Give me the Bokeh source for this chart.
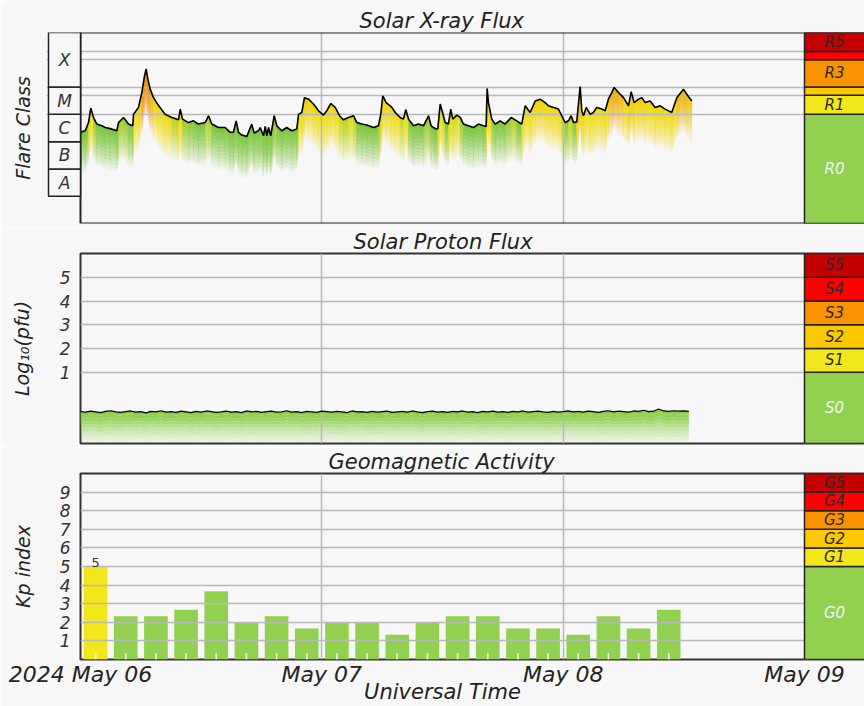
import numpy as np
from bokeh.plotting import figure
from bokeh.layouts import column
from bokeh.models import Range1d, FixedTicker, LinearAxis, ColumnDataSource
from bokeh.core.properties import value
from bokeh.embed import file_html
from bokeh.resources import INLINE

# ---------------- data ----------------
day_ticks = [0, 24, 48, 72]                      # hours after 2024-05-06 00:00 UT
day_labels = ["2024 May 06", "May 07", "May 08", "May 09"]
time_label = "Universal Time"
time_label_at = 36

# GOES X-ray flux (W/m^2), hours after 2024-05-06 00:00 UT
xray_hours = [
    0.00, 0.47, 0.80, 1.02, 1.29, 1.62, 2.12, 2.46, 2.95, 3.61,
    3.78, 4.28, 4.77, 5.20, 5.27, 5.77, 6.10, 6.37, 6.53, 6.69,
    6.93, 7.26, 7.76, 8.42, 9.08, 9.75, 9.92, 10.14, 10.74, 11.24,
    11.73, 12.40, 12.73, 13.06, 13.72, 14.39, 14.89, 15.21, 15.48, 15.71,
    16.04, 16.54, 17.03, 17.27, 17.70, 17.87, 18.20, 18.37, 18.53, 18.70,
    18.92, 19.26, 19.52, 20.02, 20.51, 21.01, 21.51, 21.68, 22.01, 22.27,
    22.67, 23.17, 23.67, 24.16, 24.49, 24.89, 25.33, 25.76, 26.15, 26.65,
    27.15, 27.48, 27.97, 28.47, 29.14, 29.63, 29.86, 30.06, 30.40, 30.80,
    30.96, 31.30, 31.79, 32.12, 32.35, 32.62, 33.11, 33.61, 34.11, 34.61,
    34.87, 35.27, 35.53, 35.77, 36.00, 36.27, 36.59, 36.82, 37.02, 37.42,
    37.76, 38.09, 38.58, 39.08, 39.58, 40.07, 40.34, 40.44, 40.57, 40.90,
    41.24, 41.74, 42.23, 42.83, 43.39, 43.88, 44.22, 44.72, 45.22, 45.71,
    46.21, 46.54, 47.04, 47.53, 47.86, 48.20, 48.53, 48.80, 49.02, 49.35,
    49.52, 49.69, 49.85, 50.02, 50.29, 50.69, 51.01, 51.34, 51.84, 52.18,
    52.50, 52.83, 53.07, 53.50, 54.00, 54.50, 54.76, 55.06, 55.49, 55.82,
    56.15, 56.65, 57.15, 57.65, 58.14, 58.80, 59.30, 59.96, 60.29, 60.79,
]
xray_flux = [
    2.2e-6, 2.5e-6, 5.0e-6, 1.7e-5, 7.7e-6, 4.4e-6, 3.8e-6, 3.3e-6, 3.0e-6, 2.5e-6,
    5.0e-6, 7.7e-6, 4.4e-6, 3.8e-6, 1.0e-5, 1.8e-5, 6.3e-5, 2.6e-4, 4.6e-4, 2.0e-4,
    8.4e-5, 4.1e-5, 2.1e-5, 1.0e-5, 7.7e-6, 6.3e-6, 1.56e-5, 6.7e-6, 5.0e-6, 5.8e-6,
    4.4e-6, 5.0e-6, 8.9e-6, 4.4e-6, 3.3e-6, 3.3e-6, 2.2e-6, 2.2e-6, 5.8e-6, 2.2e-6,
    1.74e-6, 1.55e-6, 4.4e-6, 2.06e-6, 2.5e-6, 3.3e-6, 1.64e-6, 3.6e-6, 1.64e-6, 3.3e-6,
    1.64e-6, 8.9e-6, 3.8e-6, 2.5e-6, 3.3e-6, 2.5e-6, 2.9e-6, 1.0e-5, 1.17e-5, 4.1e-5,
    3.6e-5, 2.4e-5, 1.35e-5, 9.4e-6, 1.35e-5, 2.5e-5, 1.8e-5, 8.9e-6, 6.3e-6, 7.7e-6,
    8.9e-6, 5.0e-6, 4.4e-6, 4.05e-6, 3.3e-6, 3.8e-6, 1.0e-5, 4.8e-5, 2.7e-5, 2.06e-5,
    1.8e-5, 1.17e-5, 7.7e-6, 6.7e-6, 1.47e-5, 6.7e-6, 3.8e-6, 4.4e-6, 3.8e-6, 8.9e-6,
    3.8e-6, 3.0e-6, 2.9e-6, 2.4e-5, 1.17e-5, 5.0e-6, 4.4e-6, 1.56e-5, 6.7e-6, 9.4e-6,
    7.7e-6, 4.4e-6, 3.8e-6, 3.3e-6, 4.4e-6, 3.8e-6, 3.6e-6, 8.9e-5, 2.7e-5, 6.7e-6,
    4.4e-6, 5.8e-6, 4.4e-6, 7.7e-6, 5.8e-6, 4.4e-6, 2.06e-5, 1.17e-5, 3.1e-5, 3.6e-5,
    2.7e-5, 2.06e-5, 1.8e-5, 1.56e-5, 8.9e-6, 5.0e-6, 5.8e-6, 8.9e-6, 5.0e-6, 5.3e-6,
    2.4e-5, 1.05e-4, 1.35e-5, 8.9e-6, 1.8e-5, 1.0e-5, 1.17e-5, 1.8e-5, 1.56e-5, 1.35e-5,
    3.6e-5, 6.3e-5, 9.7e-5, 6.3e-5, 4.1e-5, 2.06e-5, 6.7e-5, 2.7e-5, 3.6e-5, 4.1e-5,
    2.7e-5, 3.1e-5, 1.8e-5, 2.06e-5, 1.56e-5, 1.17e-5, 4.1e-5, 8.4e-5, 5.5e-5, 3.1e-5,
]

flare_classes = ["A", "B", "C", "M", "X"]
flare_class_low = [1e-8, 1e-7, 1e-6, 1e-5, 1e-4]
flare_class_high = [1e-7, 1e-6, 1e-5, 1e-4, 1e-2]

r_scale_labels = ["R0", "R1", "", "R3", "", "R5"]
r_scale_low = [1e-9, 1e-5, 5e-5, 1e-4, 1e-3, 2e-3]
r_scale_high = [1e-5, 5e-5, 1e-4, 1e-3, 2e-3, 1e-2]

# proton flux, log10(pfu), every half hour
proton_hours = [i * 0.5 for i in range(122)]
proton_log_pfu = [
    -0.66, -0.68, -0.64, -0.67, -0.70, -0.65, -0.62, -0.67, -0.69, -0.66,
    -0.63, -0.68, -0.66, -0.71, -0.65, -0.67, -0.62, -0.68, -0.66, -0.69,
    -0.64, -0.67, -0.70, -0.65, -0.68, -0.63, -0.66, -0.69, -0.67, -0.64,
    -0.68, -0.66, -0.70, -0.63, -0.67, -0.65, -0.69, -0.66, -0.64, -0.68,
    -0.67, -0.62, -0.68, -0.66, -0.70, -0.65, -0.67, -0.69, -0.64, -0.66,
    -0.68, -0.65, -0.67, -0.70, -0.63, -0.67, -0.66, -0.69, -0.65, -0.68,
    -0.66, -0.64, -0.69, -0.67, -0.65, -0.68, -0.63, -0.67, -0.70, -0.66,
    -0.64, -0.68, -0.66, -0.69, -0.65, -0.67, -0.63, -0.68, -0.66, -0.70,
    -0.65, -0.67, -0.64, -0.68, -0.66, -0.69, -0.65, -0.67, -0.63, -0.68,
    -0.66, -0.64, -0.67, -0.69, -0.65, -0.68, -0.66, -0.63, -0.67, -0.65,
    -0.68, -0.64, -0.66, -0.69, -0.65, -0.62, -0.67, -0.64, -0.66, -0.68,
    -0.63, -0.65, -0.60, -0.66, -0.64, -0.55, -0.63, -0.65, -0.62, -0.64,
    -0.63, -0.65,
]
proton_ticks = [1, 2, 3, 4, 5]
s_scale_labels = ["S0", "S1", "S2", "S3", "S4", "S5"]
s_scale_low = [-2, 1, 2, 3, 4, 5]
s_scale_high = [1, 2, 3, 4, 5, 6]

# planetary K index, 3-hour intervals
kp_start_hours = [0, 3, 6, 9, 12, 15, 18, 21, 24, 27, 30, 33, 36, 39, 42, 45, 48, 51, 54, 57]
kp_values = [5.0, 2.33, 2.33, 2.67, 3.67, 2.0, 2.33, 1.67, 2.0, 2.0,
             1.33, 2.0, 2.33, 2.33, 1.67, 1.67, 1.33, 2.33, 1.67, 2.67]
kp_ticks = [1, 2, 3, 4, 5, 6, 7, 8, 9]
g_scale_labels = ["G0", "G1", "G2", "G3", "G4", "G5"]
g_scale_low = [0, 5, 6, 7, 8, 9]
g_scale_high = [5, 6, 7, 8, 9, 10]

scale_colors = ["#92d050", "#f2e71b", "#fcc800", "#fb9200", "#fe0000", "#c40000"]
scale_text_colors = ["#f4f4f4", "#2a2a2a", "#2a2a2a", "#2a2a2a", "#2a2a2a", "#2a2a2a"]

# ---------------- style / layout ----------------
BG = "#f7f7f7"
FONT = "DejaVu Sans"
GRID = "#b8b8b8"
PXH = 724 / 72.0          # pixels per hour
X_END = 784 / PXH
SCALE_MID = 72 + 30 / PXH
FIG_W = 864


def base_fig(height, top, bottom, left, x_start, y_range, y_type="linear"):
    p = figure(width=FIG_W, height=height, x_range=Range1d(x_start, X_END),
               y_range=y_range, y_axis_type=y_type, output_backend="svg",
               toolbar_location=None, min_border_left=left, min_border_right=0,
               min_border_top=top, min_border_bottom=bottom,
               background_fill_color=BG, border_fill_color=BG)
    try:
        p.frame_align = False
    except Exception:
        pass
    p.outline_line_color = "#333333"
    p.outline_line_width = 2
    p.xgrid.ticker = FixedTicker(ticks=day_ticks[1:3])
    p.xgrid.grid_line_color = GRID
    p.xgrid.grid_line_width = 1.5
    p.ygrid.grid_line_color = GRID
    p.ygrid.grid_line_width = 1.5
    ya = p.yaxis[0]
    ya.axis_line_color = None
    ya.major_tick_line_color = None
    ya.minor_tick_line_color = None
    ya.major_label_text_font = FONT
    ya.major_label_text_font_style = "italic"
    ya.major_label_text_font_size = "17px"
    ya.major_label_text_color = "#333333"
    ya.major_label_standoff = 4
    ya.axis_label_text_font = FONT
    ya.axis_label_text_font_style = "italic"
    ya.axis_label_text_font_size = "19px"
    ya.axis_label_text_color = "#222222"
    return p


def style_title(t, text, offset, standoff=0):
    t.text = text
    t.align = "left"
    t.offset = offset
    t.standoff = standoff
    t.text_font = FONT
    t.text_font_style = "italic"
    t.text_font_size = "21px"
    t.text_color = "#222222"


def style_xaxis(ax, size, standoff):
    ax.axis_line_color = None
    ax.major_tick_line_color = None
    ax.minor_tick_line_color = None
    ax.major_tick_out = 0
    ax.major_tick_in = 0
    ax.minor_tick_out = 0
    ax.minor_tick_in = 0
    ax.major_label_standoff = standoff
    ax.major_label_text_font = FONT
    ax.major_label_text_font_style = "italic"
    ax.major_label_text_font_size = size
    ax.major_label_text_color = "#222222"


def add_scale(p, low, high, labels, log=False):
    p.quad(left=72, right=X_END + 5, bottom=low, top=high, fill_color=scale_colors,
           line_color="#222222", line_width=1.5)
    if log:
        mids = [np.sqrt(a * b) for a, b in zip(low, high)]
    else:
        mids = [(a + b) / 2 for a, b in zip(low, high)]
    p.text(x=[SCALE_MID] * len(mids), y=mids, text=labels, text_align="center",
           text_baseline="middle", text_font=value(FONT), text_font_style="italic",
           text_font_size="15px", text_color=scale_text_colors)


def lerp_color(l):
    stops = [(-5.3, (122, 196, 58)), (-5.05, (238, 222, 12)), (-4.5, (240, 212, 0)),
             (-3.9, (242, 140, 0))]
    if l <= stops[0][0]:
        c = stops[0][1]
    elif l >= stops[-1][0]:
        c = stops[-1][1]
    else:
        for (l0, c0), (l1, c1) in zip(stops[:-1], stops[1:]):
            if l0 <= l <= l1:
                w = (l - l0) / (l1 - l0)
                c = tuple(int(round(a + (b - a) * w)) for a, b in zip(c0, c1))
                break
    return "#%02x%02x%02x" % c


# ---------------- panel 1: X-ray flux ----------------
x1_start = -34 / PXH
p1 = base_fig(227, 32, 4, 46, x1_start, Range1d(1e-9, 1e-2), "log")
p1.outline_line_color = None
p1.xaxis.visible = False
p1.yaxis[0].ticker = FixedTicker(ticks=[])
p1.yaxis[0].axis_label = "Flare Class"
p1.yaxis[0].axis_label_standoff = 13
p1.ygrid.ticker = FixedTicker(ticks=r_scale_low[1:])
style_title(p1.title, "Solar X-ray Flux", 313)

t = np.array(xray_hours)
f = np.array(xray_flux)
lf = np.log10(f)
NB = 12
DEPTH = 1.5
ratio = 10 ** (-DEPTH / NB)
band_alpha = [1.0 - 0.92 * k / (NB - 1) for k in range(NB)]
xs, ys, cs, al = [], [], [], []
for i in range(len(t) - 1):
    col = lerp_color(0.5 * (lf[i] + lf[i + 1]))
    for k in range(NB):
        xs.append([t[i], t[i + 1], t[i + 1], t[i]])
        ys.append([f[i] * ratio ** k, f[i + 1] * ratio ** k,
                   f[i + 1] * ratio ** (k + 1), f[i] * ratio ** (k + 1)])
        cs.append(col)
        al.append(band_alpha[k])
fill_src = ColumnDataSource(dict(xs=xs, ys=ys, c=cs, a=al))
p1.patches(xs="xs", ys="ys", fill_color="c", fill_alpha="a", line_color="c",
           line_alpha="a", line_width=0.3, source=fill_src, level="image")
p1.line(xray_hours, xray_flux, line_color="black", line_width=1.6)

# main box and flare class column
p1.quad(left=0, right=X_END + 5, bottom=1e-9, top=1e-2, fill_color=None,
        line_color="#222222", line_width=2)
p1.quad(left=-32 / PXH, right=0, bottom=flare_class_low, top=flare_class_high,
        fill_color=BG, line_color="#222222", line_width=1.5)
p1.text(x=[-16 / PXH] * 5, y=[np.sqrt(a * b) for a, b in zip(flare_class_low, flare_class_high)],
        text=flare_classes, text_align="center", text_baseline="middle",
        text_font=value(FONT), text_font_style="italic", text_font_size="17px",
        text_color="#333333")
add_scale(p1, r_scale_low, r_scale_high, r_scale_labels, log=True)

# ---------------- panel 2: proton flux ----------------
p2 = base_fig(220, 25, 4, 80, 0, Range1d(-2, 6))
p2.xaxis.visible = False
p2.yaxis[0].ticker = FixedTicker(ticks=proton_ticks)
p2.ygrid.ticker = FixedTicker(ticks=proton_ticks)
p2.yaxis[0].axis_label = "Log₁₀(pfu)"
p2.yaxis[0].axis_label_standoff = 24
style_title(p2.title, "Solar Proton Flux", 273)

v = np.array(proton_log_pfu)
PB = 10
p_alpha = [1.0, 0.95, 0.85, 0.72, 0.6, 0.48, 0.37, 0.27, 0.18, 0.1]
for k in range(PB):
    y1 = v - (v + 2) * k / PB
    y2 = v - (v + 2) * (k + 1) / PB
    p2.varea(x=proton_hours, y1=y1, y2=y2, fill_color="#8ccf4b",
             fill_alpha=p_alpha[k], level="image")
p2.line(proton_hours, proton_log_pfu, line_color="black", line_width=1.2)
add_scale(p2, s_scale_low, s_scale_high, s_scale_labels)

# ---------------- panel 3: Kp ----------------
p3 = base_fig(259, 25, 43, 80, 0, Range1d(0, 10))
p3.yaxis[0].ticker = FixedTicker(ticks=kp_ticks)
p3.ygrid.ticker = FixedTicker(ticks=kp_ticks)
p3.yaxis[0].axis_label = "Kp index"
p3.yaxis[0].axis_label_standoff = 23
style_title(p3.title, "Geomagnetic Activity", 248)
xa = p3.xaxis[0]
xa.ticker = FixedTicker(ticks=day_ticks)
xa.major_label_overrides = {tk: lb for tk, lb in zip(day_ticks, day_labels)}
style_xaxis(xa, "22px", 2)

ut_axis = LinearAxis(ticker=FixedTicker(ticks=[time_label_at]),
                     major_label_overrides={time_label_at: time_label})
style_xaxis(ut_axis, "21px", -10)
p3.add_layout(ut_axis, "below")

kp_centers = [s + 1.5 for s in kp_start_hours]
kp_colors = [scale_colors[1] if k >= 5 else scale_colors[0] for k in kp_values]
p3.vbar(x=kp_centers, top=kp_values, bottom=0, width=2.35, fill_color=kp_colors,
        line_color=None, level="image")
p3.segment(x0=kp_centers, y0=[0] * len(kp_centers), x1=kp_centers,
           y1=[0.33] * len(kp_centers), line_color="white", line_width=1.5)
storm = [i for i, k in enumerate(kp_values) if k >= 5]
p3.text(x=[kp_centers[i] for i in storm], y=[kp_values[i] + 0.19 for i in storm],
        text=["%g" % kp_values[i] for i in storm], text_align="center",
        text_baseline="alphabetic", text_font=value(FONT), text_font_size="13px",
        text_color="#333333")
add_scale(p3, g_scale_low, g_scale_high, g_scale_labels)

layout = column(p1, p2, p3)
open("out.html", "w").write(file_html(layout, INLINE))
